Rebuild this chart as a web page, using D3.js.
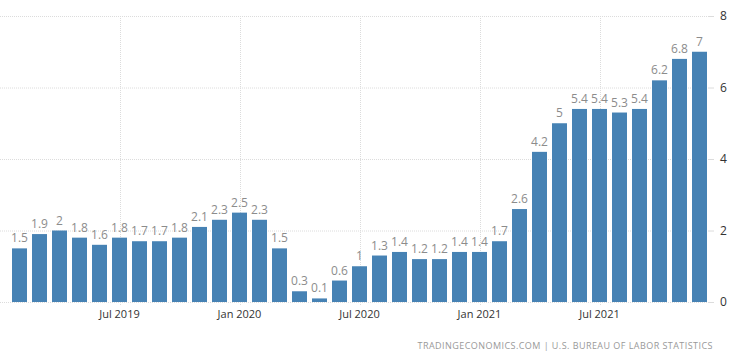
<!DOCTYPE html>
<html>
<head>
<meta charset="utf-8">
<script src="https://cdn.jsdelivr.net/npm/d3@7.9.0/dist/d3.min.js"></script>
<style>
  body { margin: 0; background: #fff; }
  svg { display: block; font-family: "Open Sans", sans-serif; }
</style>
</head>
<body>
<svg id="chart" width="750" height="361"></svg>
<script>
const months = [
  "2019-02", "2019-03", "2019-04", "2019-05", "2019-06", "2019-07", "2019-08",
  "2019-09", "2019-10", "2019-11", "2019-12", "2020-01", "2020-02", "2020-03",
  "2020-04", "2020-05", "2020-06", "2020-07", "2020-08", "2020-09", "2020-10",
  "2020-11", "2020-12", "2021-01", "2021-02", "2021-03", "2021-04", "2021-05",
  "2021-06", "2021-07", "2021-08", "2021-09", "2021-10", "2021-11", "2021-12",
];
const values = [
  1.5, 1.9, 2, 1.8, 1.6, 1.8, 1.7, 1.7, 1.8, 2.1, 2.3, 2.5, 2.3, 1.5, 0.3,
  0.1, 0.6, 1, 1.3, 1.4, 1.2, 1.2, 1.4, 1.4, 1.7, 2.6, 4.2, 5, 5.4, 5.4, 5.3,
  5.4, 6.2, 6.8, 7,
];
const xTicks = ["2019-07", "2020-01", "2020-07", "2021-01", "2021-07"];
const xTickLabels = ["Jul 2019", "Jan 2020", "Jul 2020", "Jan 2021", "Jul 2021"];
const yTicks = [0, 2, 4, 6, 8];

const data = months.map((m, i) => ({ month: m, value: values[i] }));

const svg = d3.select("#chart");
const plotLeft = 0, plotRight = 709;

const x = d3.scaleBand()
  .domain(months)
  .range([9.5, 709.5])
  .paddingInner(0.25)
  .paddingOuter(0.125);

const y = d3.scaleLinear().domain([0, 8]).range([302, 16]);

// grid
svg.append("g")
  .selectAll("line")
  .data(yTicks)
  .join("line")
  .attr("x1", plotLeft)
  .attr("x2", plotRight)
  .attr("y1", (d) => y(d) + 0.5)
  .attr("y2", (d) => y(d) + 0.5)
  .attr("stroke", "#dcdcdc")
  .attr("stroke-dasharray", "1,1");

svg.append("g")
  .selectAll("line")
  .data(xTicks)
  .join("line")
  .attr("x1", (d) => Math.round(x(d) + x.bandwidth() / 2) + 0.5)
  .attr("x2", (d) => Math.round(x(d) + x.bandwidth() / 2) + 0.5)
  .attr("y1", 16)
  .attr("y2", 306)
  .attr("stroke", "#dcdcdc")
  .attr("stroke-dasharray", "1,1");

// bars
svg.append("g")
  .selectAll("rect")
  .data(data)
  .join("rect")
  .attr("x", (d) => x(d.month))
  .attr("width", x.bandwidth())
  .attr("y", (d) => y(d.value))
  .attr("height", (d) => y(0) - y(d.value))
  .attr("fill", "#4682b4");

// value labels
svg.append("g")
  .selectAll("text")
  .data(data)
  .join("text")
  .attr("x", (d) => x(d.month) + x.bandwidth() / 2)
  .attr("y", (d) => y(d.value) - 6)
  .attr("text-anchor", "middle")
  .attr("font-size", 12)
  .attr("fill", "#8c8c8c")
  .text((d) => d.value);

// x axis labels
svg.append("g")
  .selectAll("text")
  .data(xTicks)
  .join("text")
  .attr("x", (d) => x(d) + x.bandwidth() / 2)
  .attr("y", 318)
  .attr("text-anchor", "middle")
  .attr("font-size", 11)
  .attr("fill", "#333")
  .text((d, i) => xTickLabels[i]);

// y axis
const yAxis = d3.axisRight(y).tickValues(yTicks).tickSize(5).tickPadding(6);
const yg = svg.append("g").attr("transform", `translate(${plotRight},0)`).call(yAxis);
yg.select(".domain").remove();
yg.selectAll(".tick line").attr("stroke", "#dcdcdc");
yg.selectAll(".tick text")
  .attr("font-size", 12)
  .attr("font-family", "Open Sans, sans-serif")
  .attr("fill", "#333");

// source
svg.append("text")
  .attr("x", 713)
  .attr("y", 349)
  .attr("text-anchor", "end")
  .attr("font-size", 9)
  .attr("letter-spacing", 0.45)
  .attr("fill", "#999")
  .text("TRADINGECONOMICS.COM | U.S. BUREAU OF LABOR STATISTICS");
</script>
</body>
</html>
